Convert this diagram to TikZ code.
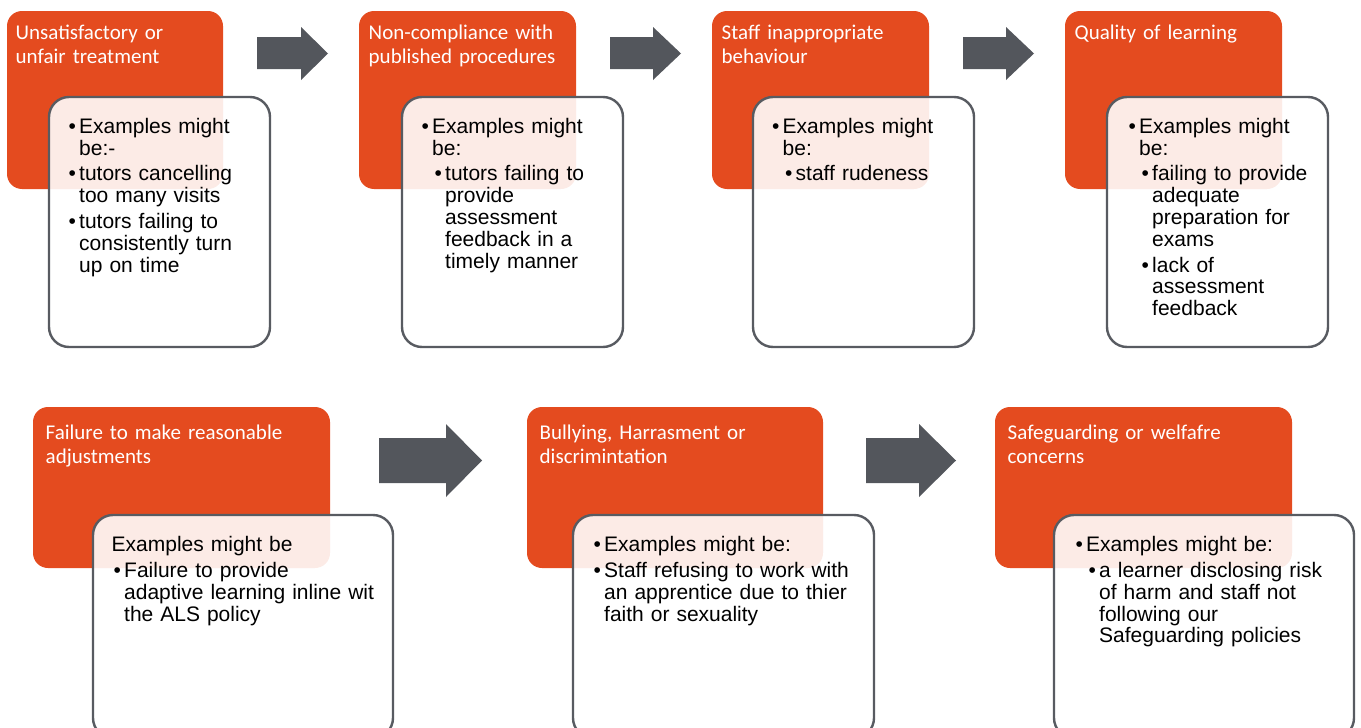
\documentclass[tikz,border=0pt]{standalone}
\usepackage{fontspec}
\setmainfont{Liberation Sans}
\newfontfamily\headfont{Carlito}
\definecolor{headorange}{RGB}{228,75,31}
\definecolor{arrowgrey}{RGB}{83,86,92}
\definecolor{boxline}{RGB}{88,91,97}

% bullet points, one and two levels deep
\newcommand{\listpt}[1]{\setlength{\parskip}{4pt}\noindent\hangindent=10.5pt\hangafter=1\makebox[10.5pt][l]{•}#1\par}
\newcommand{\listsubpt}[1]{\setlength{\parskip}{4pt}\noindent\hangindent=23.5pt\hangafter=1\hspace*{13pt}\makebox[10.5pt][l]{•}#1\par}

\begin{document}
\begin{tikzpicture}[x=1pt,y=-1pt,
	headbox/.style={fill=headorange, rounded corners=15pt},
	listbox/.style={draw=boxline, line width=2.4pt, fill=white, fill opacity=0.89, rounded corners=20pt},
	headtext/.style={anchor=base west, inner sep=0pt, text=white, text width=290pt, align=left, font=\headfont\fontsize{21}{24}\selectfont},
	listtext/.style={anchor=base west, inner sep=0pt, text width=200pt, align=left, font=\fontsize{21}{21.8}\selectfont},
	widelist/.style={listtext, text width=270pt},
	arrowshape/.style={fill=arrowgrey}]
	\useasboundingbox (0,0) rectangle (1361,728);
	%box 1
		\fill[headbox] (7,11) rectangle (223,189);
		\node[headtext] (head1) at (15.5,39) {Unsatisfactory or\\unfair treatment};
		\draw[listbox] (49,97) rectangle (270,347);
		\node[listtext] (list1) at (68.5,133.3) {%
			\listpt{Examples might\newline be:-}
			\listpt{tutors cancelling\newline too many visits}
			\listpt{tutors failing to\newline consistently turn\newline up on time}};
	%arrow 1
		\fill[arrowshape] (257,37) -- (301,37) -- (301,27) -- (328,53.5) -- (301,80) -- (301,69) -- (257,69) -- cycle;
	%box 2
		\fill[headbox] (359,11) rectangle (576,189);
		\node[headtext] (head2) at (368.5,39) {Non-compliance with\\published procedures};
		\draw[listbox] (402,97) rectangle (623,347);
		\node[listtext] (list2) at (421.5,133.3) {%
			\listpt{Examples might\newline be:}
			\listsubpt{tutors failing to\newline provide\newline assessment\newline feedback in a\newline timely manner}};
	%arrow 2
		\fill[arrowshape] (610,37) -- (653,37) -- (653,27) -- (681,53.5) -- (653,80) -- (653,69) -- (610,69) -- cycle;
	%box 3
		\fill[headbox] (712,11) rectangle (929,189);
		\node[headtext] (head3) at (721.5,39) {Staff inappropriate\\behaviour};
		\draw[listbox] (753,97) rectangle (974,347);
		\node[listtext] (list3) at (772,133.3) {%
			\listpt{Examples might\newline be:}
			\listsubpt{staff rudeness}};
	%arrow 3
		\fill[arrowshape] (963,37) -- (1006,37) -- (1006,27) -- (1034,53.5) -- (1006,80) -- (1006,69) -- (963,69) -- cycle;
	%box 4
		\fill[headbox] (1065,11) rectangle (1282,189);
		\node[headtext] (head4) at (1074.5,39) {Quality of learning};
		\draw[listbox] (1107,97) rectangle (1328,347);
		\node[listtext] (list4) at (1128.5,133.3) {%
			\listpt{Examples might\newline be:}
			\listsubpt{failing to provide\newline adequate\newline preparation for\newline exams}
			\listsubpt{lack of\newline assessment\newline feedback}};
	%box 5
		\fill[headbox] (33,407) rectangle (330,568);
		\node[headtext] (head5) at (45.5,439.3) {Failure to make reasonable\\adjustments};
		\draw[listbox] (93,515) rectangle (393,738);
		\node[widelist] (list5) at (113.5,551.7) {%
			\noindent\hspace*{-2pt}Examples might be\par
			\listpt{Failure to provide\newline adaptive learning inline wit\newline the ALS policy}};
	%arrow 5
		\fill[arrowshape] (379,438) -- (446,438) -- (446,424) -- (482,460.5) -- (446,497) -- (446,483) -- (379,483) -- cycle;
	%box 6
		\fill[headbox] (527,407) rectangle (823,568);
		\node[headtext] (head6) at (539.5,439.3) {Bullying, Harrasment or\\discrimintation};
		\draw[listbox] (573,515) rectangle (874,738);
		\node[widelist] (list6) at (593.5,551.7) {%
			\listpt{Examples might be:}
			\listpt{Staff refusing to work with\newline an apprentice due to thier\newline faith or sexuality}};
	%arrow 6
		\fill[arrowshape] (866,438) -- (919,438) -- (919,424) -- (956,460.5) -- (919,497) -- (919,483) -- (866,483) -- cycle;
	%box 7
		\fill[headbox] (995,407) rectangle (1292,568);
		\node[headtext] (head7) at (1007.5,439.3) {Safeguarding or welfafre\\concerns};
		\draw[listbox] (1054,515) rectangle (1354,738);
		\node[widelist] (list7) at (1075.5,551.7) {%
			\listpt{Examples might be:}
			\listsubpt{a learner disclosing risk\newline of harm and staff not\newline following our\newline Safeguarding policies}};
\end{tikzpicture}
\end{document}
